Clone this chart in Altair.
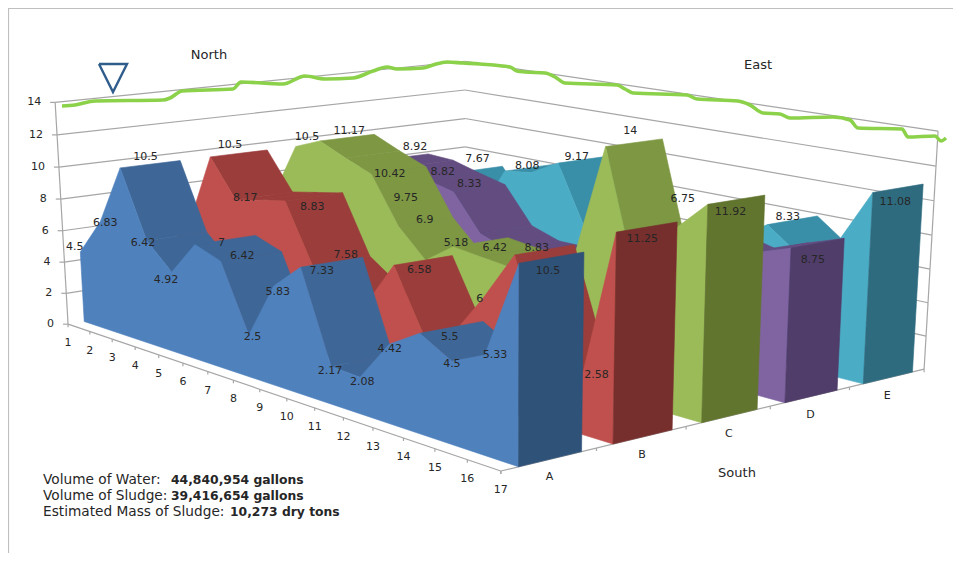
import numpy as np
import pandas as pd
import altair as alt

# ---------- values ----------
POSITIONS = list(range(1, 18))
SERIES = ["A", "B", "C", "D", "E"]
A = [4.5, 6.83, 10.5, 6.42, 4.92, 7, 6.42, 2.5, 5.83, 7.33, 2.17, 2.08, 4.42, 5.5, 4.5, 5.33, 10.5]
B = [4, 6, 10.5, 8.17, 8.5, 8.83, 5.3, 4.1, 3.9, 6.58, 3.0, 3.5, 6, 8.83, 3, 2.58, 11.25]
C = [5, 7, 10.5, 11.17, 10.42, 9.75, 6.9, 5.18, 6.42, 6.2, 6, 1.5, 7, 14, 6.75, 10.1, 11.92]
D = [6, 8, 8.92, 8.82, 8.33, 7.9, 5.6, 5, 5, 5, 5, 5, 5, 7.9, 7.4, 8.1, 8.75]
E = [5, 6.6, 7.4, 5, 8.2, 8.45, 9.4, 5.5, 5.8, 6.0, 5, 5.5, 7, 8.1, 6.65, 7.6, 11.08]
VALUES = [A, B, C, D, E]
FRONT = ["#4F81BD", "#C0504D", "#9BBB59", "#8064A2", "#4BACC6"]
STRIP = ["#3E6797", "#9B3D3B", "#7D9743", "#634C80", "#3A8FA8"]
CAP = ["#2F5279", "#772F2D", "#62752F", "#503D6A", "#2F6B7F"]

# data labels: series index, position, value, text, nudge off the band centre
LABELS = [
 (0,1,4.5,"4.5",-35,-1),(0,2,6.83,"6.83",-25,6),(0,3,10.5,"10.5",-5,-7),(0,4,6.42,"6.42",-34,7),(0,5,4.92,"4.92",-36,13),
 (0,6,7,"7",-4,3),(0,7,6.42,"6.42",-9,0),(0,8,2.5,"2.5",-27,7),(0,9,5.83,"5.83",-27,11),(0,10,7.33,"7.33",-10,9),
 (0,11,2.17,"2.17",-32,11),(0,12,2.08,"2.08",-29,11),(0,13,4.42,"4.42",-31,11),(0,14,5.5,"5.5",-2,10),(0,15,4.5,"4.5",-32,9),
 (0,16,5.33,"5.33",-22,6),(0,17,10.5,"10.5",-4,13),
 (1,3,10.5,"10.5",-9,-8),(1,4,8.17,"8.17",-19,2),(1,6,8.83,"8.83",-2,10),(1,7,7.58,"7.58",5,32),(1,10,6.58,"6.58",-4,10),
 (1,13,6,"6",-33,6),(1,14,8.83,"8.83",-8,-2),(1,16,2.58,"2.58",-13,-5),(1,17,11.25,"11.25",-5,12),
 (2,3,10.5,"10.5",-16,-6),(2,4,11.17,"11.17",2,-7),(2,5,10.42,"10.42",17,20),(2,6,9.75,"9.75",7,28),(2,7,6.9,"6.9",-1,-2),
 (2,8,5.18,"5.18",3,-13),(2,9,6.42,"6.42",14,6),(2,14,14,"14",-4,-12),(2,15,6.75,"6.75",18,-80),(2,17,11.92,"11.92",-6,12),
 (3,3,8.92,"8.92",12,-10),(3,4,8.82,"8.82",15,8),(3,5,8.33,"8.33",16,8),(3,17,8.75,"8.75",-5,17),
 (4,3,7.67,"7.67",-1,-7),(4,5,8.08,"8.08",-2,-4),(4,7,9.17,"9.17",-6,-6),(4,14,8.33,"8.33",-5,1),(4,17,11.08,"11.08",-3,14)]

GREEN_X = [62,75,95,163,170,182,233,241,283,305,325,353,373,387,397,423,433,447,463,480,510,517,525,545,555,565,617,625,633,687,697,738,750,763,780,790,833,850,858,902,908,935,941,946]
GREEN_Y = [106,105,101,100,98,91,89,82,84,76,79,78,71,67,69,68,65,62,63,64,67,71,72,73,77,83,85,89,93,95,99,101,105,113,114,118,117,120,128,129,137,136,141,138]
TRI_X = [99,127,113,99]
TRI_Y = [64,64,92,64]

# camera calibration: box landmarks seen in the picture (position, depth, value) -> picture
CAL = [
 (1,0,14,55,102),(1,0,12,58,135),(1,0,10,59,167),(1,0,8,60,199),(1,0,6,62,231),(1,0,4,64,262),(1,0,2,66,293),(1,0,0,68,323),
 (17,5,14,938,131),(17,5,12,936,166),(17,5,10,934,201),(17,5,8,932,235),(17,5,6,930,269),(17,5,4,928,302),(17,5,2,926.7,334),(17,5,0,924.6,368),
 (1,5,14,465,61),(1,5,12,465,90),(1,5,10,465,120),
 (2,0,0,90,332),(3,0,0,112,339),(4,0,0,136,347),(5,0,0,159,355),(6,0,0,183,363),(7,0,0,208,372),(8,0,0,233,380),(9,0,0,260,389),
 (10,0,0,287,398),(11,0,0,315,408),(12,0,0,343,417),(13,0,0,374,428),(14,0,0,404,439),(15,0,0,435,449),(16,0,0,467,460),(17,0,0,500.7,470),
 (17,1,0,596,448),(17,2,0,686,427),(17,3,0,769,408),(17,4,0,849,389),
]
rows = []
for X,Y,Z,u,v in CAL:
    rows.append([X,Y,Z,1,0,0,0,0,-u*X,-u*Y,-u*Z,-u])
    rows.append([0,0,0,0,X,Y,Z,1,-v*X,-v*Y,-v*Z,-v])
P = np.linalg.svd(np.array(rows,float))[2][-1].reshape(3,4)

def proj(i, s, z):
    w = P @ np.array([i, s, z, 1.0])
    return float(w[0]/w[2]), float(w[1]/w[2])

S0, S1 = 0.18, 0.84
polys = []
rec = []
def add(pts, color):
    pid = len(polys)
    polys.append(pid)
    for k, p in enumerate(pts + pts[:1]):
        rec.append(dict(poly=pid, v=k, x=p[0], y=p[1], c=color))
def area2(q):
    a = 0
    for k in range(len(q)):
        x0,y0 = q[k]; x1,y1 = q[(k+1)%len(q)]
        a += x0*y1-x1*y0
    return a
for n in range(4,-1,-1):
    vals = VALUES[n]; s0 = n+S0; s1 = n+S1
    for k in range(16):
        i0,i1 = POSITIONS[k],POSITIONS[k+1]; z0,z1 = vals[k],vals[k+1]
        strip = [proj(i0,s0,z0),proj(i1,s0,z1),proj(i1,s1,z1),proj(i0,s1,z0)]
        ref = [proj(i0,s0,5),proj(i1,s0,5),proj(i1,s1,5),proj(i0,s1,5)]
        if area2(strip)*area2(ref) > 0:
            add(strip, STRIP[n])
    add([proj(1,s0,0),proj(17,s0,0)]+[proj(POSITIONS[k],s0,vals[k]) for k in range(16,-1,-1)], FRONT[n])
    add([proj(17,s0,0),proj(17,s1,0),proj(17,s1,vals[16]),proj(17,s0,vals[16])], CAP[n])
poly_df = pd.DataFrame(rec)

W, H = 945, 545
X = alt.X("x:Q", axis=None, scale=alt.Scale(domain=[8,8+W], range=[0,W], nice=False, zero=False))
Y = alt.Y("y:Q", axis=None, scale=alt.Scale(domain=[8,8+H], range=[0,H], nice=False, zero=False))
X2 = alt.X2("x2:Q"); Y2 = alt.Y2("y2:Q")

# frame rules
seg = []
def line(a,b,c="#A6A6A6",w=1.2):
    seg.append(dict(x=a[0],y=a[1],x2=b[0],y2=b[1],c=c,w=w))
for z in range(0,15,2):
    if z>0:
        line(proj(1,0,z),proj(1,5,z))
        line(proj(1,5,z),proj(17,5,z))
    a = proj(1,0,z); line(a,(a[0]-5,a[1]))
line(proj(1,0,0),proj(1,0,14))
line(proj(17,5,0),proj(17,5,14))
line(proj(1,0,0),proj(17,0,0)); line(proj(17,0,0),proj(17,5,0))
for i in POSITIONS:
    a = proj(i,0,0); line(a,(a[0],a[1]+3))
for s in range(6):
    a = proj(17,s,0); line(a,(a[0],a[1]+3))
seg.append(dict(x=8.5,y=8.5,x2=8.5,y2=553,c="#BFBFBF",w=1.2))
seg.append(dict(x=8,y=8.5,x2=953,y2=8.5,c="#BFBFBF",w=1.2))
seg_df = pd.DataFrame(seg)

rules = alt.Chart(seg_df).mark_rule().encode(x=X,y=Y,x2=X2,y2=Y2,
    color=alt.Color("c:N",scale=None),strokeWidth=alt.StrokeWidth("w:Q",scale=None))
poly_layer = alt.Chart(poly_df).mark_line(strokeWidth=0.6, interpolate="linear").encode(
    x=X,y=Y,order=alt.Order("v:Q"),detail="poly:N",
    fill=alt.Fill("c:N",scale=None),stroke=alt.Stroke("c:N",scale=None))
green = alt.Chart(pd.DataFrame(dict(x=GREEN_X,y=GREEN_Y,v=range(len(GREEN_X))))).mark_line(
    color="#8CD14A",strokeWidth=3.6,interpolate="monotone").encode(x=X,y=Y,order="v:Q")
tri = alt.Chart(pd.DataFrame(dict(x=TRI_X,y=TRI_Y,v=range(4)))).mark_line(
    color="#2F5D8C",strokeWidth=2.4,strokeJoin="miter").encode(x=X,y=Y,order="v:Q")

txt = []
def t(x,y,s,**k):
    d = dict(x=x,y=y,s=s,size=11,align="center",weight="normal"); d.update(k); txt.append(d)
for n,i,v,s,dx,dy in LABELS:
    x,y = proj(i,n+0.51,v)
    t(x+dx,y+dy,s)
for z in range(0,15,2):
    a = proj(1,0,z); t(a[0]-14,a[1],str(z),align="right")
for i in POSITIONS:
    a = proj(i,0,0); t(a[0],a[1]+19,str(i))
for n,s in enumerate(SERIES):
    a = proj(17,n+0.5,0); t(a[0],a[1]+18,s)
t(209,55,"North",size=13); t(758,65,"East",size=13); t(737,473,"South",size=13)
t(43,479.5,"Volume of Water:",align="left",size=13.7)
t(43,496,"Volume of Sludge:",align="left",size=13.7)
t(43,512,"Estimated Mass of Sludge:",align="left",size=13.7)
t(171,479.5,"44,840,954 gallons",align="left",size=12.35,weight="bold")
t(171,496,"39,416,654 gallons",align="left",size=12.35,weight="bold")
t(230,512,"10,273 dry tons",align="left",size=12.35,weight="bold")
txt_df = pd.DataFrame(txt)
def text_layer(al,wt):
    d = txt_df[(txt_df["align"]==al)&(txt_df["weight"]==wt)]
    return alt.Chart(d).mark_text(align=al,baseline="middle",font="DejaVu Sans",fontWeight=wt,color="#262626").encode(
        x=X,y=Y,text="s:N",size=alt.Size("size:Q",scale=None))
texts = [text_layer("center","normal"),text_layer("right","normal"),text_layer("left","normal"),text_layer("left","bold")]

chart = alt.layer(rules,poly_layer,green,tri,*texts).properties(
    width=W,height=H,padding=0,autosize=alt.AutoSizeParams(type="none"),background="white"
).configure_view(stroke=None)
chart.save("out.html", embed_options={"renderer": "svg", "actions": False})
